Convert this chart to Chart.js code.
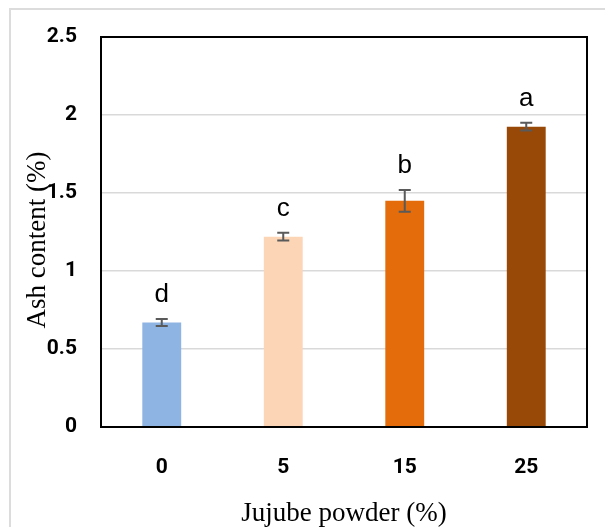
<!DOCTYPE html>
<html>
<head>
<meta charset="utf-8">
<script src="https://cdn.jsdelivr.net/npm/chart.js@4/dist/chart.umd.min.js"></script>
<style>
  html, body { margin: 0; padding: 0; background: #fff; overflow: hidden; }
  #wrap { position: relative; width: 605px; height: 527px; }
  #frame { position: absolute; left: 9px; top: 8px; width: 700px; height: 700px;
           border-left: 2px solid #dcdcdc; border-top: 2px solid #dcdcdc; }
  #chart { position: absolute; left: 0; top: 0; }
</style>
</head>
<body>
<div id="wrap">
  <div id="frame"></div>
  <canvas id="chart" width="605" height="527"></canvas>
</div>
<script>
// Ash content by jujube powder level
const levels    = ["0", "5", "15", "25"];
const ashMeans  = [0.67, 1.22, 1.45, 1.925];
const ashErrors = [0.022, 0.025, 0.07, 0.025];
const letters   = ["d", "c", "b", "a"];
const barColors = ["#8eb4e3", "#fbd5b5", "#e46c0a", "#984807"];
const yTicks    = [0, 0.5, 1, 1.5, 2, 2.5];

const serif = "'Liberation Serif', 'Times New Roman', serif";
const tickFont = { family: "Roboto, 'Liberation Sans', sans-serif", size: 21, weight: "bold" };

// error bars, significance letters, plot frame and y title
const errorBarPlugin = {
  id: "errorBars",
  afterDatasetsDraw(chart) {
    const { ctx, scales: { y } } = chart;
    const meta = chart.getDatasetMeta(0);
    ctx.save();
    meta.data.forEach((bar, i) => {
      const x   = bar.x;
      const top = y.getPixelForValue(ashMeans[i] + ashErrors[i]);
      const bot = y.getPixelForValue(ashMeans[i] - ashErrors[i]);
      ctx.strokeStyle = "#5a5a5a";
      ctx.lineWidth = 2;
      ctx.beginPath();
      ctx.moveTo(x, top); ctx.lineTo(x, bot);
      ctx.moveTo(x - 6, top); ctx.lineTo(x + 6, top);
      ctx.moveTo(x - 6, bot); ctx.lineTo(x + 6, bot);
      ctx.stroke();

      ctx.fillStyle = "#000";
      ctx.font = "26px 'Liberation Sans', Arial, sans-serif";
      ctx.textAlign = "center";
      ctx.textBaseline = "alphabetic";
      ctx.fillText(letters[i], x, top - 17);
    });
    ctx.restore();
  },
  afterDraw(chart) {
    const { ctx, chartArea: a } = chart;
    ctx.save();
    ctx.strokeStyle = "#000";
    ctx.lineWidth = 2;
    ctx.strokeRect(a.left, a.top, a.right - a.left, a.bottom - a.top);

    // y axis title, sits a little below the plot centre
    ctx.translate(38, 240);
    ctx.rotate(-Math.PI / 2);
    ctx.fillStyle = "#000";
    ctx.font = "27px " + serif;
    ctx.textAlign = "center";
    ctx.textBaseline = "middle";
    ctx.fillText("Ash content (%)", 0, 0);
    ctx.restore();
  }
};

new Chart(document.getElementById("chart"), {
  type: "bar",
  data: {
    labels: levels,
    datasets: [{
      data: ashMeans,
      backgroundColor: barColors,
      borderWidth: 0,
      categoryPercentage: 1,
      barPercentage: 0.32,
    }],
  },
  options: {
    responsive: false,
    devicePixelRatio: 1,
    animation: false,
    layout: { padding: { left: 26, right: 18, top: 37, bottom: 0 } },
    plugins: { legend: { display: false }, tooltip: { enabled: false } },
    scales: {
      x: {
        grid: { display: false, drawTicks: false },
        border: { display: false },
        ticks: { color: "#000", padding: 28, font: tickFont },
        title: {
          display: true,
          text: "Jujube powder (%)",
          color: "#000",
          padding: 0,
          font: { family: serif, size: 27, lineHeight: 1 },
        },
        afterFit(scale) { scale.height = 100; },
      },
      y: {
        min: 0,
        max: 2.5,
        afterBuildTicks(scale) { scale.ticks = yTicks.map(v => ({ value: v })); },
        grid: { color: "#d9d9d9", lineWidth: 1.5, drawTicks: false },
        border: { display: false },
        ticks: {
          color: "#000",
          padding: 24,
          callback: (v) => String(v),
          font: tickFont,
        },
        afterFit(scale) { scale.width = 75; },
      },
    },
  },
  plugins: [errorBarPlugin],
});
</script>
</body>
</html>
